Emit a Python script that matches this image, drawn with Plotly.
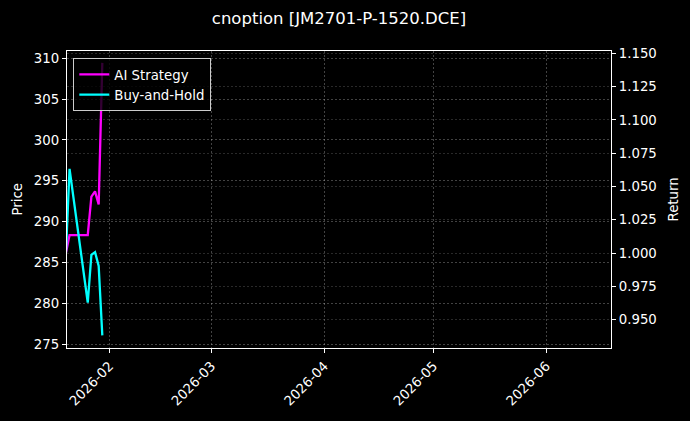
import plotly.graph_objects as go

# ---- data ----
dates = ["2026-01-20", "2026-01-21", "2026-01-26", "2026-01-27",
         "2026-01-28", "2026-01-29", "2026-01-30"]
ai_strategy = [1.000, 1.0135, 1.0135, 1.0423, 1.0463, 1.0364, 1.1428]
buy_and_hold = [1.000, 1.0632, 0.9627, 0.9987, 1.0007, 0.9903, 0.9382]

price_ticks = [275, 280, 285, 290, 295, 300, 305, 310]
return_ticks = [0.950, 0.975, 1.000, 1.025, 1.050, 1.075, 1.100, 1.125, 1.150]
month_ticks = ["2026-02-01", "2026-03-01", "2026-04-01", "2026-05-01", "2026-06-01"]
month_labels = ["2026-02", "2026-03", "2026-04", "2026-05", "2026-06"]

title_text = "cnoption [JM2701-P-1520.DCE]"

FONT = "DejaVu Sans"
GRID = "rgba(255,255,255,0.26)"

fig = go.Figure()
# empty price trace so the left (Price) axis is drawn
fig.add_trace(go.Scatter(x=[], y=[], name="Price", mode="lines", yaxis="y",
                         showlegend=False, hoverinfo="skip"))
fig.add_trace(go.Scatter(x=dates, y=ai_strategy, name="AI Strategy", mode="lines",
                         line=dict(color="#ff00ff", width=2.3), yaxis="y2"))
fig.add_trace(go.Scatter(x=dates, y=buy_and_hold, name="Buy-and-Hold", mode="lines",
                         line=dict(color="#00ffff", width=2.3), yaxis="y2"))

axis_common = dict(
    showline=True, linecolor="white", linewidth=1.2,
    ticks="outside", ticklen=4, tickcolor="white", tickwidth=1,
    tickfont=dict(family=FONT, size=13.3, color="white"),
    showgrid=True, gridcolor=GRID, gridwidth=0.6, griddash="2px,2px",
    zeroline=False,
)

fig.update_layout(
    width=690, height=421,
    paper_bgcolor="black", plot_bgcolor="black",
    margin=dict(l=67, r=79, t=51, b=70),
    font=dict(family=FONT, color="white", size=13.3),
    title=dict(text=title_text, x=0.5, xref="paper", xanchor="center",
               y=1 - 18 / 421, yref="container", yanchor="middle",
               font=dict(family=FONT, size=16.5, color="white")),
    xaxis=dict(axis_common, type="date",
               range=["2026-01-20 07:12", "2026-06-18 18:15"],
               tickvals=month_ticks, ticktext=month_labels, tickangle=-45,
               mirror=True),
    yaxis=dict(axis_common, range=[274.51, 310.89], tickvals=price_ticks,
               side="left"),
    yaxis2=dict(axis_common, range=[0.9287, 1.1517], tickvals=return_ticks,
                tickformat=".3f", overlaying="y", side="right",
                gridcolor="rgba(255,255,255,0.16)"),
    legend=dict(x=0.0116, y=0.9756, xanchor="left", yanchor="top",
                bgcolor="rgba(0,0,0,0.8)", bordercolor="#cccccc", borderwidth=1,
                font=dict(family=FONT, size=13.3, color="white"),
                itemwidth=30, tracegroupgap=0),
    showlegend=True,
    annotations=[
        dict(text="Price", xref="paper", yref="paper", x=(17 - 67) / 544, y=0.5,
             xanchor="center", yanchor="middle", textangle=-90, showarrow=False,
             font=dict(family=FONT, size=13.3, color="white")),
        dict(text="Return", xref="paper", yref="paper", x=(673 - 67) / 544, y=0.5,
             xanchor="center", yanchor="middle", textangle=-90, showarrow=False,
             font=dict(family=FONT, size=13.3, color="white")),
    ],
)

fig.write_html("out.html",
               config={"displayModeBar": False},
               post_script="document.body.style.margin='0';document.body.style.background='black';")
